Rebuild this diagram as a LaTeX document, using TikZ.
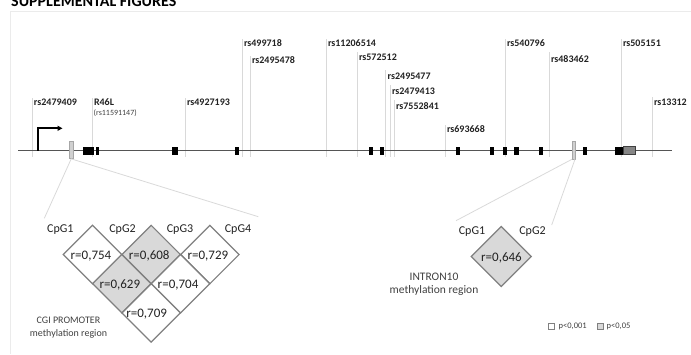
\documentclass[tikz,border=0pt]{standalone}
\usepackage{fontspec}
\setmainfont{Carlito}
\usetikzlibrary{arrows.meta}
\definecolor{framegray}{HTML}{EBEBEB}
\definecolor{snpgray}{HTML}{D9D9D9}
\definecolor{genegray}{HTML}{555555}
\definecolor{boxgray}{HTML}{D0D0D0}
\definecolor{cellgray}{HTML}{D9D9D9}
\definecolor{edgegray}{HTML}{808080}
\definecolor{inkdark}{HTML}{222222}
\tikzset{
  snplabel/.style={font=\fontsize{10}{12}\selectfont\bfseries, text=inkdark, anchor=west, inner sep=0pt},
  snpline/.style={draw=snpgray, line width=1pt},
  geneline/.style={draw=genegray, line width=1.5pt},
  exonbox/.style={fill=black, draw=none},
  cpgsite/.style={fill=boxgray, draw=gray!70, line width=0.6pt},
  zoomline/.style={draw=snpgray, line width=0.8pt},
  cpgname/.style={font=\fontsize{12}{14}\selectfont, text=inkdark, inner sep=0pt},
  rvalue/.style={font=\fontsize{13}{15}\selectfont, text=inkdark, inner sep=0pt},
  cell/.style={draw=edgegray, line width=1.2pt, line join=miter},
  regionname/.style={align=center, text=black!75, inner sep=0pt},
  legendbox/.style={draw=edgegray, line width=0.6pt},
  legendtext/.style={font=\fontsize{8.5}{10}\selectfont, text=black!75, anchor=west, inner sep=0pt}
}
\begin{document}
\begin{tikzpicture}[x=1pt,y=-1pt]
\useasboundingbox (0,0) rectangle (691,354);

% heading, partly above the page
\node[anchor=base west, inner sep=0pt, font=\fontsize{16}{18}\selectfont\bfseries] (title) at (11,6) {SUPPLEMENTAL FIGURES};

% frame
\coordinate (fr-tl) at (10,11);
\coordinate (fr-tr) at (691,11);
\coordinate (fr-bl) at (10,354);
\draw[framegray, line width=0.8pt] (fr-tr) -- (fr-tl) -- (fr-bl);

% SNP markers: x / top of line / label y / name / text
\foreach \x/\t/\ly/\nm/\lab in {
  32/98/102.5/s1/rs2479409,
  92/98/102.5/s2/R46L,
  185/98/102.5/s3/rs4927193,
  242/39/43.5/s4/rs499718,
  250/56/60/s5/rs2495478,
  326/39/43.5/s6/rs11206514,
  357/52/57/s7/rs572512,
  385.7/70/76/s8/rs2495477,
  390/85/91/s9/rs2479413,
  394/100/106.5/s10/rs7552841,
  445/125/129.5/s11/rs693668,
  505/39/43.5/s12/rs540796,
  549/52/59/s13/rs483462,
  621/39/43.5/s14/rs505151,
  652/97/102/s15/rs13312}{
  \coordinate (\nm-top) at (\x,\t);
  \coordinate (\nm-bot) at (\x,157);
  \draw[snpline] (\nm-top) -- (\nm-bot);
  \node[snplabel] (\nm) at (\x+1.8,\ly) {\lab};
}
\node[anchor=north west, inner sep=0pt, font=\fontsize{8}{9}\selectfont, text=black!75] (s2b) at (93.5,109.5) {(rs11591147)};

% gene backbone
\coordinate (g0) at (18,150.7);
\coordinate (g1) at (672,150.7);
\draw[geneline] (g0) -- (g1);

% exons
\foreach \a/\b in {83/94, 96/99, 172.3/178.3, 235.3/238.7, 368.7/372.7,
  380/384.3, 455.7/460, 489.7/494, 503/507, 514.3/518.7, 539/543.3,
  583/587, 615.3/623.5}{
  \fill[exonbox] (\a,146.7) rectangle (\b,154.5);
}
\draw[fill=gray!95, draw=black!75, line width=0.6pt] (623.5,146.7) rectangle (635.7,154.5);

% transcription start
\coordinate (tss0) at (38.3,150.7);
\coordinate (tss1) at (38.3,128.3);
\coordinate (tss2) at (62.5,128.3);
\draw[line width=1.7pt, -{Triangle[length=5pt, width=5pt]}] (tss0) -- (tss1) -- (tss2);

% methylated CpG sites
\node[cpgsite, minimum width=3.8pt, minimum height=17.5pt, inner sep=0pt] (cgi) at (71.2,149.8) {};
\node[cpgsite, minimum width=2.6pt, minimum height=17.5pt, inner sep=0pt] (intr) at (573.5,150.2) {};

% zoom-in guides
\coordinate (zl1) at (44.3,218.3);
\coordinate (zl2) at (258.3,216.7);
\coordinate (zr1) at (456,220.7);
\coordinate (zr2) at (551.7,225);
\draw[zoomline] (cgi.south) -- (zl1);
\draw[zoomline] (cgi.south) -- (zl2);
\draw[zoomline] (intr.south) ++(-1.5,0) coordinate (intrL) (intrL) -- (zr1);
\draw[zoomline] (intr.south) ++(1.5,0) coordinate (intrR) (intrR) -- (zr2);

% promoter correlation cells: centre x / centre y / fill / text / text shift
\def\h{29.2}
\foreach \cx/\cy/\fc/\txt/\dx/\nm in {
  92.5/254.5/white/{r=0,754}/-1.5/c12,
  151.2/254.5/cellgray/{r=0,608}/-2/c23,
  209.9/254.5/white/{r=0,729}/-2/c34,
  121.85/283.7/cellgray/{r=0,629}/-2/c13,
  180.55/283.7/white/{r=0,704}/-2.5/c24,
  151.2/312.9/white/{r=0,709}/-4.5/c14}{
  \filldraw[cell, fill=\fc] (\cx,\cy-\h) -- (\cx+\h,\cy) -- (\cx,\cy+\h) -- (\cx-\h,\cy) -- cycle;
  \node[rvalue] (\nm) at (\cx+\dx,\cy+1.2) {\txt};
}
\node[cpgname] (p1) at (60.3,229.5) {CpG1};
\node[cpgname] (p2) at (122.5,229.5) {CpG2};
\node[cpgname] (p3) at (180,229.5) {CpG3};
\node[cpgname] (p4) at (238,229.5) {CpG4};
\node[regionname, font=\fontsize{10}{13.3}\selectfont] (cginame) at (68.5,327.8) {CGI PROMOTER\\methylation region};

% intron 10 correlation cell
\def\hh{30}
\filldraw[cell, fill=cellgray] (501.2,256.5-\hh) -- (501.2+\hh,256.5) -- (501.2,256.5+\hh) -- (501.2-\hh,256.5) -- cycle;
\node[rvalue] (i12) at (501.5,257.5) {r=0,646};
\node[cpgname] (q1) at (472,231.5) {CpG1};
\node[cpgname] (q2) at (532.5,231.5) {CpG2};
\node[regionname, font=\fontsize{11.5}{13.3}\selectfont] (intname) at (434,284) {INTRON10\\methylation region};

% legend
\draw[legendbox, fill=white] (548.3,323.3) rectangle (554.3,329.3);
\node[legendtext] (lg1) at (558.5,326.3) {p<0,001};
\draw[legendbox, fill=cellgray] (597.3,323.3) rectangle (603.3,329.3);
\node[legendtext] (lg2) at (606.5,326.3) {p<0,05};
\end{tikzpicture}
\end{document}
